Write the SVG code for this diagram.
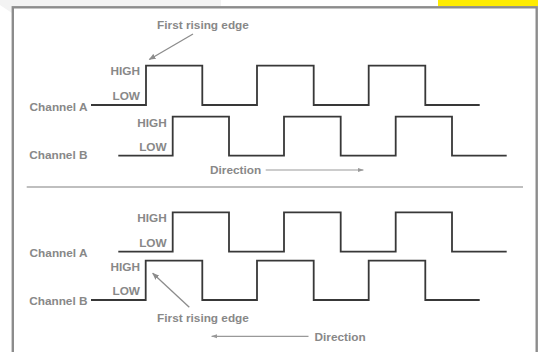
<svg xmlns="http://www.w3.org/2000/svg" width="538" height="352" viewBox="0 0 538 352">
<style>
.t{font-family:"Liberation Sans",Arial,sans-serif;font-weight:bold;font-size:11.8px;fill:#888888}
.e{text-anchor:end}
.w{fill:none;stroke:#383838;stroke-width:1.8}
.a{fill:none;stroke:#8c8c8c;stroke-width:1.3}
.d{fill:none;stroke:#999999;stroke-width:1.2}
</style>
<defs>
<marker id="ah" viewBox="0 0 10 10" refX="9" refY="5" markerWidth="7" markerHeight="7" markerUnits="userSpaceOnUse" orient="auto"><path d="M0,1 L10,5 L0,9 Z" fill="#8c8c8c"/></marker>
<marker id="dh" viewBox="0 0 10 10" refX="9" refY="5" markerWidth="6" markerHeight="6" markerUnits="userSpaceOnUse" orient="auto"><path d="M0,1.5 L10,5 L0,8.5 Z" fill="#999999"/></marker>
</defs>
<rect width="538" height="352" fill="#ffffff"/>
<path d="M0,0 H221 V6 H12 V13 L0,5 Z" fill="#f3f3f3"/>
<rect x="438" y="0" width="100" height="6.5" fill="#ffec00"/>
<rect x="12.8" y="7.3" width="523.9" height="360" fill="#ffffff" stroke="#8c8c8c" stroke-width="2.4"/>
<line x1="26.7" y1="187" x2="523" y2="187" stroke="#aaaaaa" stroke-width="1.4"/>
<g id="top-channel-a">
<text class="t e" x="87.5" y="111">Channel A</text>
<text class="t e" x="140" y="75">HIGH</text>
<text class="t e" x="140" y="100">LOW</text>
</g>
<g id="top-channel-b">
<text class="t e" x="87.5" y="159">Channel B</text>
<text class="t e" x="166.7" y="126.7">HIGH</text>
<text class="t e" x="166.7" y="151">LOW</text>
</g>
<g id="top-labels">
<text class="t" x="203" y="29.3" text-anchor="middle">First rising edge</text>
<text class="t" x="210" y="173.5">Direction</text>
</g>
<g id="bottom-channel-a">
<text class="t e" x="87.5" y="256.7">Channel A</text>
<text class="t e" x="166.7" y="222.3">HIGH</text>
<text class="t e" x="166.7" y="247.3">LOW</text>
</g>
<g id="bottom-channel-b">
<text class="t e" x="87.5" y="305">Channel B</text>
<text class="t e" x="140" y="270.7">HIGH</text>
<text class="t e" x="140" y="295">LOW</text>
</g>
<g id="bottom-labels">
<text class="t" x="203" y="322.3" text-anchor="middle">First rising edge</text>
<text class="t" x="314.5" y="340.5">Direction</text>
</g>
<g id="connectors">
<path class="w" d="M91,105 H146 V65.7 H202.3 V105 H257 V65.7 H313.7 V105 H368.7 V65.7 H425.3 V105 H479.7"/>
<path class="w" d="M118.3,155.7 H172.7 V116.7 H229 V155.7 H284 V116.7 H340.7 V155.7 H395.7 V116.7 H452 V155.7 H506.7"/>
<path class="w" d="M118.3,251.7 H172.7 V212.3 H229 V251.7 H284 V212.3 H340.7 V251.7 H395.7 V212.3 H452 V251.7 H506.7"/>
<path class="w" d="M91,300 H145.7 V260.7 H202.3 V300 H257 V260.7 H313.7 V300 H368.7 V260.7 H425.3 V300 H479.7"/>
<line class="a" x1="193" y1="34" x2="149.3" y2="59.5" marker-end="url(#ah)"/>
<line class="a" x1="189.3" y1="307.3" x2="152.7" y2="273.3" marker-end="url(#ah)"/>
<line class="d" x1="265.7" y1="170" x2="363.3" y2="170" marker-end="url(#dh)"/>
<line class="d" x1="308.5" y1="336.3" x2="211.7" y2="336.3" marker-end="url(#dh)"/>
</g>
</svg>
